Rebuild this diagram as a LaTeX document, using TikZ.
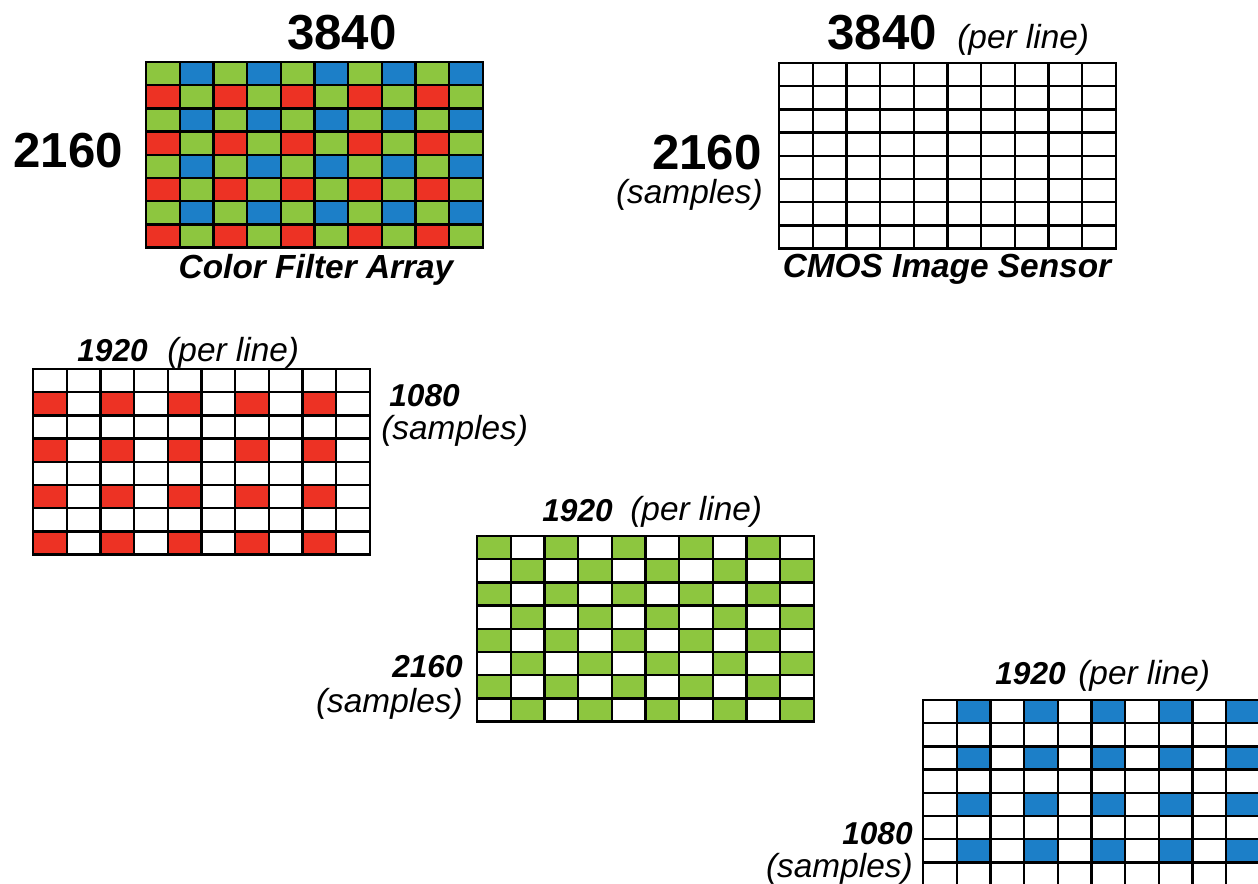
\documentclass[tikz,border=0pt]{standalone}
\usepackage{fontspec}
\setmainfont{Liberation Sans}
\definecolor{pxred}{RGB}{237,50,36}
\definecolor{pxgreen}{RGB}{141,198,63}
\definecolor{pxblue}{RGB}{28,127,200}
\newcommand{\cellw}{33.7}
\newcommand{\cellh}{23.2}
% 10 x 8 cell lines, from the origin of the scope
\newcommand{\pixgrid}{%
  \foreach \col in {0,...,10} \draw[gridline] (\col*\cellw,0) -- (\col*\cellw,8*\cellh);
  \foreach \row in {0,...,8} \draw[gridline] (0,\row*\cellh) -- (10*\cellw,\row*\cellh);
}
\tikzset{
  bignum/.style={font=\fontsize{28}{30}\selectfont\bfseries, inner sep=0pt},
  itnum/.style={font=\fontsize{18}{20}\selectfont\bfseries\itshape, inner sep=0pt},
  itlbl/.style={font=\fontsize{19}{21}\selectfont\itshape, inner sep=0pt},
  caption/.style={font=\fontsize{19}{21}\selectfont\bfseries\itshape, inner sep=0pt},
  gridline/.style={line width=1.3pt, line cap=rect},
}
\begin{document}
\begin{tikzpicture}[x=0.02cm, y=-0.02cm]
\useasboundingbox (0,0) rectangle (1258,884);
\clip (0,0) rectangle (1258,884);
% color filter array
\begin{scope}[shift={(146,62)}]
\fill[pxgreen] (0,0) rectangle (10*\cellw,8*\cellh);
\foreach \row in {1,3,5,7} \foreach \col in {0,2,...,8}
  \fill[pxred] (\col*\cellw,\row*\cellh) rectangle ++(\cellw,\cellh);
\foreach \row in {0,2,4,6} \foreach \col in {1,3,...,9}
  \fill[pxblue] (\col*\cellw,\row*\cellh) rectangle ++(\cellw,\cellh);
\pixgrid
\end{scope}
\node [bignum, anchor=base] (cfawidth) at (342,50) {3840};
\node [bignum, anchor=base west] (cfaheight) at (13,168) {2160};
\node [caption, anchor=base] (cfaname) at (316,279) {Color Filter Array};
% image sensor
\begin{scope}[shift={(779,63)}]
\pixgrid
\end{scope}
\node [bignum, anchor=base west] (cmoswidth) at (827,50) {3840};
\node [itlbl, anchor=base west] (cmosline) at (957,49) {(per line)};
\node [bignum, anchor=base east] (cmosheight) at (762,170) {2160};
\node [itlbl, anchor=base east] (cmossamples) at (763,204) {(samples)};
\node [caption, anchor=base] (cmosname) at (947,278) {CMOS Image Sensor};
% red samples
\begin{scope}[shift={(33,369)}]
\foreach \row in {1,3,5,7} \foreach \col in {0,2,...,8}
  \fill[pxred] (\col*\cellw,\row*\cellh) rectangle ++(\cellw,\cellh);
\pixgrid
\end{scope}
\node [itnum, anchor=base west] (redwidth) at (77,362) {1920};
\node [itlbl, anchor=base west] (redline) at (167,362) {(per line)};
\node [itnum, anchor=base west] (redheight) at (389,407) {1080};
\node [itlbl, anchor=base west] (redsamples) at (381,440) {(samples)};
% green samples
\begin{scope}[shift={(477,536)}]
\foreach \row in {0,2,4,6} \foreach \col in {0,2,...,8} {
  \fill[pxgreen] (\col*\cellw,\row*\cellh) rectangle ++(\cellw,\cellh);
  \fill[pxgreen] (\col*\cellw+\cellw,\row*\cellh+\cellh) rectangle ++(\cellw,\cellh);
}
\pixgrid
\end{scope}
\node [itnum, anchor=base west] (greenwidth) at (542,522) {1920};
\node [itlbl, anchor=base west] (greenline) at (630,521) {(per line)};
\node [itnum, anchor=base east] (greenheight) at (463,678) {2160};
\node [itlbl, anchor=base east] (greensamples) at (463,713) {(samples)};
% blue samples
\begin{scope}[shift={(923,700)}]
\foreach \row in {0,2,4,6} \foreach \col in {1,3,...,9}
  \fill[pxblue] (\col*\cellw,\row*\cellh) rectangle ++(\cellw,\cellh);
\pixgrid
\end{scope}
\node [itnum, anchor=base west] (bluewidth) at (995,685) {1920};
\node [itlbl, anchor=base west] (blueline) at (1078,685) {(per line)};
\node [itnum, anchor=base east] (blueheight) at (913,845) {1080};
\node [itlbl, anchor=base east] (bluesamples) at (913,877) {(samples)};
\end{tikzpicture}
\end{document}
